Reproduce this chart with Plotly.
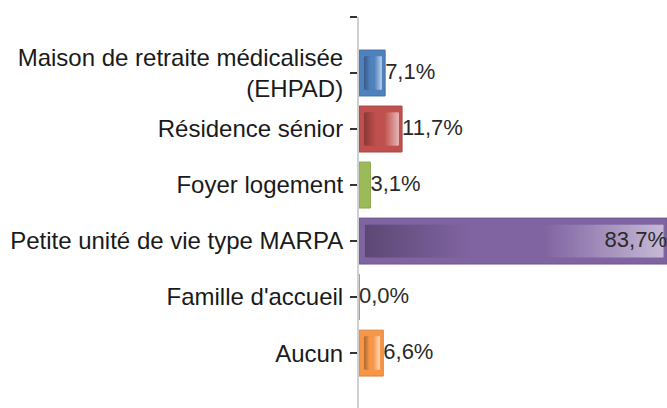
import plotly.graph_objects as go

# Categories (top to bottom) and shares in percent
categories = [
    "Maison de retraite médicalisée<br>(EHPAD)",
    "Résidence sénior",
    "Foyer logement",
    "Petite unité de vie type MARPA",
    "Famille d'accueil",
    "Aucun",
]
values = [7.1, 11.7, 3.1, 83.7, 0.0, 6.6]
value_labels = ["7,1%", "11,7%", "3,1%", "83,7%", "0,0%", "6,6%"]
bar_colors = ["#4F81BD", "#C0504D", "#9BBB59", "#8064A2", "#4BACC6", "#F79646"]

positions = list(range(len(categories)))


def hex_to_rgb(h):
    h = h.lstrip("#")
    return [int(h[i:i + 2], 16) for i in (0, 2, 4)]


def rgb_str(c):
    return "rgb(%d,%d,%d)" % tuple(int(round(v)) for v in c)


def mix(a, b, t):
    return [a[k] + (b[k] - a[k]) * t for k in range(3)]


def shade(base_hex, t):
    """Inner bevel shading: dark on the left, base in the middle, light on the right."""
    base = hex_to_rgb(base_hex)
    dark = [v * 0.72 for v in base]
    light = [v + (255 - v) * 0.55 for v in base]
    if t < 0.35:
        return rgb_str(mix(dark, base, t / 0.35))
    if t < 0.6:
        return rgb_str(base)
    return rgb_str(mix(base, light, (t - 0.6) / 0.4))


def darker(base_hex, f=0.88):
    return rgb_str([v * f for v in hex_to_rgb(base_hex)])


fig = go.Figure()

# Outer bars
fig.add_trace(go.Bar(
    y=positions,
    x=values,
    orientation="h",
    width=0.82,
    marker=dict(color=bar_colors,
                line=dict(color=[darker(c) for c in bar_colors], width=1)),
    hoverinfo="skip",
    showlegend=False,
))

# Inner gradient strip, built from thin overlapping slices along each bar
n_slices = 90
start_inset = 1.6
end_inset = 1.0
inner_start = [start_inset for v in values]
inner_len = [max(v - start_inset - end_inset, 0.0) for v in values]
for j in range(n_slices):
    t = (j + 0.5) / n_slices
    widths = []
    bases = []
    for s, L in zip(inner_start, inner_len):
        step = L / n_slices
        b = s + step * j
        w = min(step * 2.0, s + L - b)
        widths.append(w if L > 0.6 else 0)
        bases.append(b)
    fig.add_trace(go.Bar(
        y=positions,
        x=widths,
        base=bases,
        orientation="h",
        width=0.58,
        marker=dict(color=[shade(c, t) for c in bar_colors], line=dict(width=0)),
        hoverinfo="skip",
        showlegend=False,
    ))

# Value labels: beside short bars, inside the end of the longest one
max_v = max(values)
text_pos = ["middle left" if v == max_v else "middle right" for v in values]
fig.add_trace(go.Scatter(
    y=positions,
    x=values,
    mode="text",
    text=value_labels,
    textposition=text_pos,
    textfont=dict(family="Liberation Sans, Arial, sans-serif", size=22, color="#2a2a2a"),
    hoverinfo="skip",
    showlegend=False,
    cliponaxis=False,
))

fig.update_layout(
    width=667,
    height=408,
    margin=dict(l=359, r=0, t=17, b=0),
    paper_bgcolor="white",
    plot_bgcolor="white",
    barmode="overlay",
    font=dict(family="Liberation Sans, Arial, sans-serif", size=24, color="#1a1a1a"),
)

fig.update_xaxes(
    range=[0, max_v],
    showticklabels=False,
    showgrid=False,
    zeroline=False,
    showline=False,
    ticks="",
)

fig.update_yaxes(
    range=[5.98, -1],
    tickmode="array",
    tickvals=[-1] + positions,
    ticktext=[""] + categories,
    ticks="outside",
    ticklen=7,
    tickwidth=1.5,
    tickcolor="#333333",
    showline=True,
    linecolor="#d0d0d0",
    linewidth=2,
    showgrid=False,
    zeroline=False,
    ticklabelstandoff=2,
)

fig.write_html("out.html")
